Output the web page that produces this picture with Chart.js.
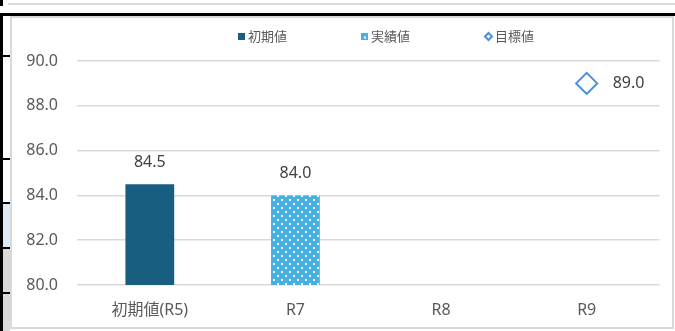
<!DOCTYPE html>
<html>
<head>
<meta charset="utf-8">
<script src="https://cdn.jsdelivr.net/npm/chart.js@4"></script>
<style>
  html, body { margin: 0; padding: 0; background: #fff; width: 675px; height: 331px; overflow: hidden; }
  .deco { position: absolute; }
  #frame { position: absolute; left: 10px; top: 16px; width: 664px; height: 313px; box-sizing: border-box; border: 2px solid #d9d9d9; background: #fff; }
  #wrap { position: absolute; left: 12px; top: 18px; width: 660px; height: 309px; }
</style>
</head>
<body>
<!-- spreadsheet bits around the chart object -->
<div class="deco" style="left:8px;top:3px;width:667px;height:2px;background:#d9d9d9"></div>
<div class="deco" style="left:0;top:0;width:3px;height:6px;background:#000"></div>
<div class="deco" style="left:0;top:13px;width:675px;height:3px;background:#000"></div>
<div class="deco" style="left:0;top:13px;width:3px;height:318px;background:#000"></div>
<div class="deco" style="left:3px;top:204px;width:7px;height:43px;background:#ddebf7"></div>
<div class="deco" style="left:3px;top:249px;width:7px;height:82px;background:#d9d9d9"></div>
<div class="deco" style="left:0;top:55px;width:10px;height:2px;background:#000"></div>
<div class="deco" style="left:0;top:158px;width:10px;height:2px;background:#000"></div>
<div class="deco" style="left:0;top:202px;width:10px;height:2px;background:#000"></div>
<div class="deco" style="left:0;top:247px;width:10px;height:2px;background:#000"></div>
<div class="deco" style="left:0;top:292px;width:10px;height:2px;background:#000"></div>
<div id="frame"></div>
<div id="wrap"><canvas id="chart"></canvas></div>
<script>
// categories / values
const CATEGORIES    = ['初期値(R5)', 'R7', 'R8', 'R9'];
const INITIAL_VALS  = [84.5, null, null, null];
const ACTUAL_VALS   = [null, 84.0, null, null];
const TARGET_VALS   = [null, null, null, 89.0];
const SERIES_NAMES  = ['初期値', '実績値', '目標値'];
const Y_MIN = 80, Y_MAX = 90, Y_STEP = 2;

const DARK  = '#175e81';
const LIGHT = '#47b0e3';
const BLUE  = '#4a8fd8';
const FONT  = '"Noto Sans", "Noto Sans CJK JP", sans-serif';

Chart.defaults.font.family = FONT;

function dotPattern() {
    const c = document.createElement('canvas');
    c.width = 8; c.height = 8;
    const g = c.getContext('2d');
    g.fillStyle = LIGHT;
    g.fillRect(0, 0, 8, 8);
    g.fillStyle = 'rgba(255,255,255,0.95)';
    g.fillRect(1, 1, 2, 2);
    g.fillRect(5, 5, 2, 2);
    return g.createPattern(c, 'repeat');
}

const ctx = document.getElementById('chart').getContext('2d');
const pattern = dotPattern();

// value labels above bars / right of the marker
const valueLabels = {
    id: 'valueLabels',
    afterDatasetsDraw(chart) {
        const c = chart.ctx;
        c.save();
        c.font = '16px ' + FONT;
        c.fillStyle = '#404040';
        c.textBaseline = 'middle';
        chart.data.datasets.forEach((ds, di) => {
            chart.getDatasetMeta(di).data.forEach((el, i) => {
                const v = ds.data[i];
                if (v == null) return;
                if (ds.type === 'line') {
                    c.textAlign = 'left';
                    c.fillText(v.toFixed(1), el.x + 26, el.y);
                } else {
                    c.textAlign = 'center';
                    c.fillText(v.toFixed(1), el.x, el.y - 22);
                }
            });
        });
        c.restore();
    },
};

// Excel-like legend at the top
const topLegend = {
    id: 'topLegend',
    afterDraw(chart) {
        const c = chart.ctx;
        const y = 18.5;
        const starts = [226, 349, 473];
        c.save();
        c.font = '13px ' + FONT;
        c.fillStyle = '#595959';
        c.textBaseline = 'middle';
        c.textAlign = 'left';
        starts.forEach((x, i) => {
            if (i === 0) {
                c.fillStyle = DARK;
                c.fillRect(x, y - 3.5, 7, 7);
            } else if (i === 1) {
                c.fillStyle = LIGHT;
                c.fillRect(x, y - 3.5, 7, 7);
                c.fillStyle = '#fff';
                c.fillRect(x + 3, y, 2, 2);
            } else {
                c.beginPath();
                c.moveTo(x + 3.5 - 3.5, y);
                c.lineTo(x + 3.5, y - 3.5);
                c.lineTo(x + 3.5 + 3.5, y);
                c.lineTo(x + 3.5, y + 3.5);
                c.closePath();
                c.fillStyle = '#fff';
                c.fill();
                c.lineWidth = 2;
                c.strokeStyle = BLUE;
                c.stroke();
            }
            c.fillStyle = '#595959';
            c.fillText(SERIES_NAMES[i], x + 10, y + 0.5);
        });
        c.restore();
    },
};

new Chart(ctx, {
    data: {
        labels: CATEGORIES,
        datasets: [
            {
                type: 'bar',
                label: SERIES_NAMES[0],
                data: INITIAL_VALS,
                backgroundColor: DARK,
                grouped: false,
                categoryPercentage: 1,
                barPercentage: 0.335,
                order: 2,
            },
            {
                type: 'bar',
                label: SERIES_NAMES[1],
                data: ACTUAL_VALS,
                backgroundColor: pattern,
                grouped: false,
                categoryPercentage: 1,
                barPercentage: 0.335,
                order: 2,
            },
            {
                type: 'line',
                label: SERIES_NAMES[2],
                data: TARGET_VALS,
                showLine: false,
                pointStyle: 'rectRot',
                pointRadius: 10.5,
                pointBorderWidth: 2,
                pointBorderColor: BLUE,
                pointBackgroundColor: '#fff',
                order: 1,
            },
        ],
    },
    options: {
        responsive: true,
        maintainAspectRatio: false,
        animation: false,
        layout: { padding: { top: 43, right: 10, left: 0, bottom: 0 } },
        plugins: { legend: { display: false }, tooltip: { enabled: false } },
        scales: {
            x: {
                offset: true,
                grid: { display: false, drawTicks: false },
                border: { display: false },
                ticks: { color: '#595959', font: { size: 16 }, padding: 16 },
                afterFit(s) { s.height = 42; },
            },
            y: {
                min: Y_MIN,
                max: Y_MAX,
                grid: { color: '#d9d9d9', lineWidth: 1.5, drawTicks: false },
                border: { display: false },
                ticks: {
                    stepSize: Y_STEP,
                    color: '#595959',
                    font: { size: 16 },
                    padding: 19,
                    callback: v => v.toFixed(1),
                },
                afterFit(s) { s.width = 65; },
            },
        },
    },
    plugins: [valueLabels, topLegend],
});
</script>
</body>
</html>
